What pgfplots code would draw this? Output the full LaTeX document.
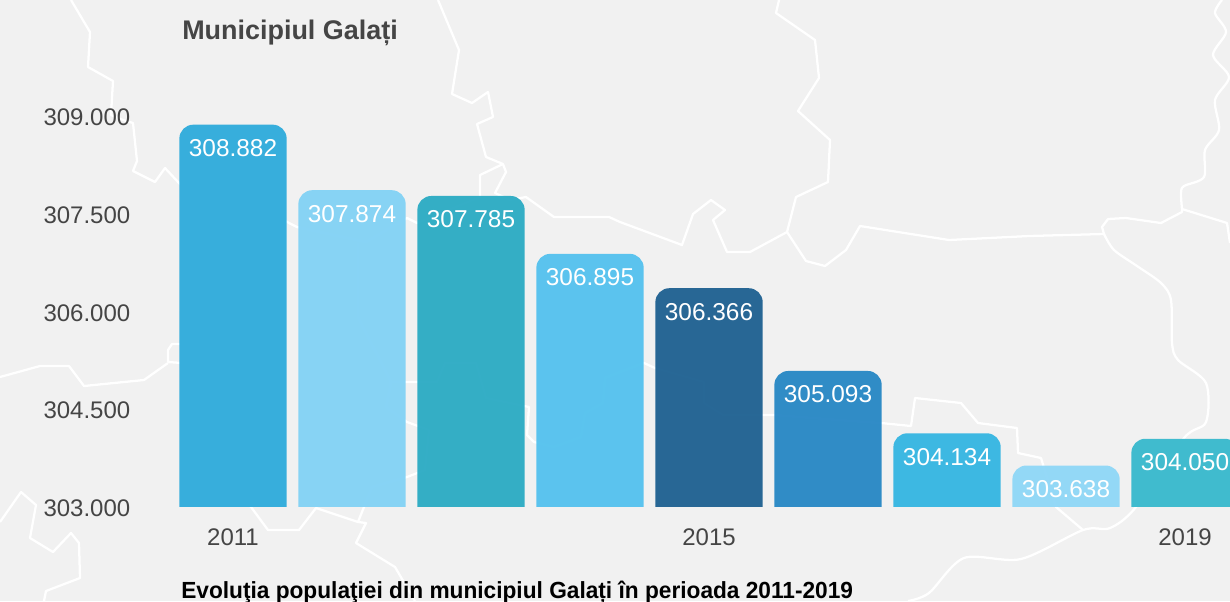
\documentclass[border=0pt]{standalone}
\usepackage{pgfplots}
\pgfplotsset{compat=1.18}
\usepackage{fontspec}
\setmainfont{Liberation Sans}
\definecolor{bgc}{HTML}{F1F1F1}
\definecolor{labc}{HTML}{454545}
\definecolor{c1}{HTML}{34ADDC}
\definecolor{c2}{HTML}{85D3F5}
\definecolor{c3}{HTML}{31ADC5}
\definecolor{c4}{HTML}{58C3EE}
\definecolor{c5}{HTML}{246594}
\definecolor{c6}{HTML}{2D8AC6}
\definecolor{c7}{HTML}{3AB7E2}
\definecolor{c8}{HTML}{92D8F7}
\definecolor{c9}{HTML}{3DBACE}
\pgfplotsset{
  page/.style={at={(0pt,0pt)},anchor=south west,scale only axis,width=922.5pt,height=450.75pt},
  mapline/.style={white,line width=1.7pt,line join=round,no markers,sharp plot},
  onebar/.style={ybar,bar shift=0pt,bar width=80.5pt,draw=none,fill=#1,fill opacity=.98,
    rounded corners=10.5pt,nodes near coords,
    every node near coord/.append style={anchor=base,yshift=-24pt,text=white,text opacity=1,font=\fontsize{18.3}{18}\selectfont}},
}
\begin{document}
\begin{tikzpicture}
\useasboundingbox (0,0) rectangle (922.5pt,450.75pt);
\fill[bgc] (0,0) rectangle (922.5pt,450.75pt);
% map outline, in image pixels
\begin{axis}[page,hide axis,xmin=0,xmax=1230,ymin=0,ymax=601,y dir=reverse]
\addplot[mapline] coordinates {(71,0)(90,32)(88,67)(113,81)(111,115)(123,120)(133,123)(137,161)(133,171)(155,182)(165,168)(179,183)(209,213)(182,257)(182,300)};
\addplot[mapline] coordinates {(209,213)(217,225)(273,213)(289,223)(297,227)(366,242)(407,218)(417,223)(480,197)(480,175)(503,164)};
\addplot[mapline] coordinates {(438,0)(459,50)(452,94)(472,103)(488,92)(493,117)(477,124)(486,157)(503,164)(506,172)(495,193)(510,200)(526,197)(554,217)(609,217)(620,222)(682,245)(693,214)(711,200)(725,210)(713,220)(727,252)(750,252)(787,232)(796,197)(828,182)(830,140)(798,111)(819,78)(815,40)(776,13)(779,0)};
\addplot[mapline] coordinates {(787,232)(806,261)(825,266)(846,250)(860,226)(949,240)(1029,236)(1104,234)(1102,227)(1108,219)(1126,218)(1161,223)(1182,212)(1182,209)(1227,223)(1230,243)};
\addplot[mapline,smooth] coordinates {(1182,209)(1181,193)(1184,186)(1204,177)(1205,150)(1219,130)(1215,100)(1229,77)(1213,55)(1226,32)(1215,13)(1222,0)};
\addplot[mapline,smooth] coordinates {(1104,234)(1114,250)(1137,266)(1161,283)(1171,300)(1172,343)(1178,360)(1206,383)(1206,422)(1184,438)(1136,507)(1110,528)(1083,530)(1021,559)(964,558)(929,593)(908,601)};
\addplot[mapline] coordinates {(1083,530)(1056,507)(1041,458)(1018,453)(1017,428)(978,423)(961,403)(915,398)(911,426)(881,423)(865,422)(774,415)(723,415)(704,403)(704,382)(655,368)(644,363)(620,372)(605,378)(603,403)(585,413)(581,437)(554,447)(534,442)(527,435)(529,407)(486,398)(476,363)(445,363)(437,382)(391,382)(386,407)(407,422)(429,430)(425,470)(407,477)(372,487)(358,522)(316,508)(299,530)(268,530)(251,507)(194,455)(196,380)(182,363)(168,362)(168,350)(172,344)(198,344)(206,320)(180,310)};
\addplot[mapline] coordinates {(391,382)(358,317)(358,243)};
\addplot[mapline] coordinates {(358,522)(366,523)(356,543)(395,567)(415,601)};
\addplot[mapline] coordinates {(0,377)(40,366)(69,366)(84,386)(144,380)(168,363)};
\addplot[mapline] coordinates {(0,522)(21,492)(36,505)(30,538)(53,552)(71,533)(79,543)(80,578)(46,591)(44,601)};
\node[anchor=base west,inner sep=0pt,text=labc,font=\fontsize{20.2}{20}\selectfont\bfseries] at (axis cs:182,39) {Municipiul Galați};
\node[anchor=base west,inner sep=0pt,text=black,font=\fontsize{17.5}{18}\selectfont\bfseries\addfontfeature{FakeStretch=0.972}] at (axis cs:181,598) {Evoluţia populaţiei din municipiul Galați în perioada 2011-2019};
\end{axis}
% bars: the rounded feet fall under the clip at 303.000
\begin{scope}
\clip (0pt,71pt) rectangle (922.5pt,450.75pt);
\begin{axis}[page,hide axis,xmin=-1.958,xmax=8.378,ymin=301553.8,ymax=310800,
  /pgf/number format/.cd,fixed,precision=0,1000 sep={.},assume math mode=true]
\addplot[onebar=c1] coordinates {(0,308882)};
\addplot[onebar=c2] coordinates {(1,307874)};
\addplot[onebar=c3] coordinates {(2,307785)};
\addplot[onebar=c4] coordinates {(3,306895)};
\addplot[onebar=c5] coordinates {(4,306366)};
\addplot[onebar=c6] coordinates {(5,305093)};
\addplot[onebar=c7] coordinates {(6,304134)};
\addplot[onebar=c8] coordinates {(7,303638)};
\addplot[onebar=c9] coordinates {(8,304050)};
\end{axis}
\end{scope}
% tick labels
\begin{axis}[page,xmin=-1.958,xmax=8.378,ymin=301553.8,ymax=310800,
  axis line style={draw=none},major tick length=0pt,
  scaled y ticks=false,
  xtick={0,4,8},xticklabels={2011,2015,2019},
  ytick={303000,304500,306000,307500,309000},
  tick label style={font=\fontsize{18}{18}\selectfont,text=labc},
  xticklabel style={anchor=base,yshift=42pt},
  yticklabel style={anchor=base east,xshift=101.25pt,yshift=-6.75pt},
  /pgf/number format/.cd,fixed,precision=0,1000 sep={.},assume math mode=true]
\end{axis}
\end{tikzpicture}
\end{document}
